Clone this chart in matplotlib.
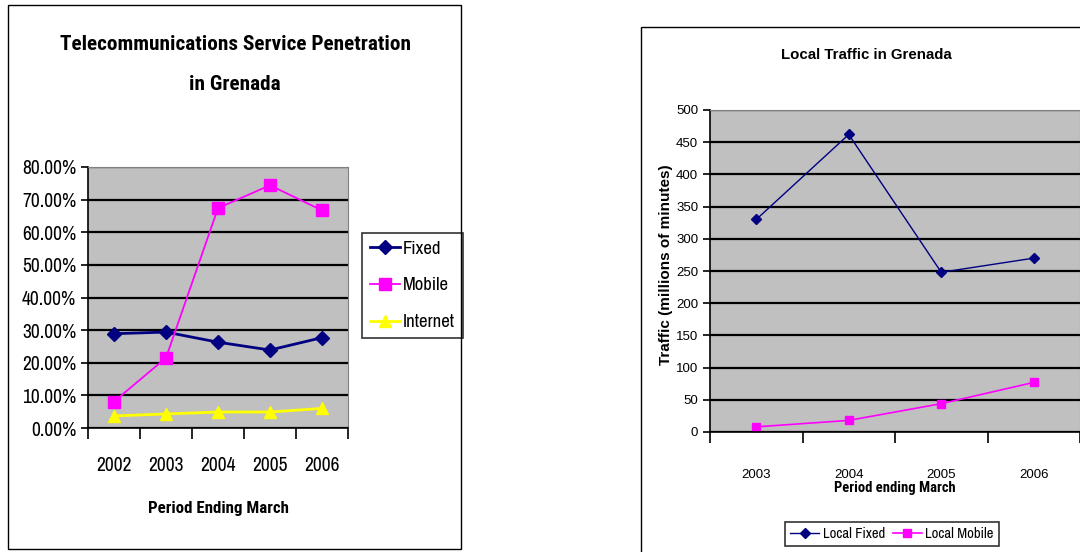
import matplotlib
matplotlib.use('Agg')
import matplotlib.pyplot as plt
from matplotlib import font_manager
from matplotlib.patches import Rectangle
from matplotlib.ticker import FixedLocator, PercentFormatter

# left chart data (share of population, %)
years_pen = ['2002', '2003', '2004', '2005', '2006']
fixed_pen = [28.9, 29.4, 26.3, 23.9, 27.7]
mobile_pen = [8.1, 21.5, 67.4, 74.4, 66.7]
internet_pen = [3.7, 4.3, 4.9, 4.9, 6.0]

# right chart data (millions of minutes)
years_traffic = ['2003', '2004', '2005', '2006']
local_fixed = [330, 462, 248, 270]
local_mobile = [8, 18, 44, 77]

# pick a narrow face if one is around (Arial Narrow look-alike)
cands = ['Liberation Sans Narrow', 'Arial Narrow', 'Archivo Narrow', 'Roboto Condensed',
         'PT Sans Narrow', 'Pragati Narrow', 'Fira Sans Condensed', 'IBM Plex Sans Condensed',
         'Encode Sans Condensed', 'Barlow Semi Condensed']


def wnum(w):
    return w if isinstance(w, int) else font_manager.weight_dict.get(w, 400)


fl = font_manager.fontManager.ttflist
have = {f.name for f in fl}
bold_have = {f.name for f in fl if wnum(f.weight) >= 600}
narrow_pick = next((c for c in cands if c in have), 'Liberation Sans')
narrow_bold = next((c for c in cands if c in bold_have), None)
NARROW = [narrow_pick, 'DejaVu Sans']
NARROW_B = [narrow_bold or 'Liberation Sans', 'DejaVu Sans']
bscale = 1.0 if narrow_bold else 0.85  # regular width face needs shrinking
REG = ['Liberation Sans', 'DejaVu Sans']
W, H = 1080, 552
NAVY, PINK, YEL = '#000080', '#FF00FF', '#FFFF00'

fig = plt.figure(figsize=(W / 100, H / 100), dpi=100)


def px(x0, y0, x1, y1):
    # pixel box (top-left origin) -> figure rect
    return [x0 / W, 1 - y1 / H, (x1 - x0) / W, (y1 - y0) / H]


def ftxt(x, y, s, **kw):
    fig.text(x / W, 1 - y / H, s, ha='center', va='center', **kw)


# outer chart frames
fig.add_artist(Rectangle((8 / W, 1 - 549 / H), 453 / W, 544 / H, transform=fig.transFigure,
                         fill=False, ec='black', lw=1))
fig.add_artist(Rectangle((641 / W, 1 - 570 / H), 460 / W, 543 / H, transform=fig.transFigure,
                         fill=False, ec='black', lw=1))


def style_axes(ax, n, ymax, step):
    ax.set_facecolor('#C0C0C0')
    ax.set_xlim(0.5, n + 0.5)
    ax.set_ylim(0, ymax)
    ax.yaxis.set_major_locator(FixedLocator([i * step for i in range(int(ymax / step) + 1)]))
    ax.grid(axis='y', color='black', lw=1.6)
    ax.set_axisbelow(True)
    ax.spines['top'].set_color('#808080')
    ax.spines['right'].set_color('#808080')
    ax.spines['left'].set_lw(1.2)
    ax.spines['bottom'].set_lw(1.2)
    ax.xaxis.set_major_locator(FixedLocator([i + 0.5 for i in range(n + 1)]))
    ax.xaxis.set_minor_locator(FixedLocator(list(range(1, n + 1))))
    ax.tick_params(axis='x', which='major', length=8, width=1.2, labelbottom=False)
    ax.tick_params(axis='y', length=5, width=1.2)


# ---- left chart ----
ax1 = fig.add_axes(px(88, 167, 348, 428))
style_axes(ax1, 5, 80, 10)
x5 = range(1, 6)
ax1.plot(x5, fixed_pen, color=NAVY, lw=2, marker='D', ms=7, label='Fixed')
ax1.plot(x5, mobile_pen, color=PINK, lw=1.3, marker='s', ms=8, label='Mobile')
ax1.plot(x5, internet_pen, color=YEL, lw=2, marker='^', ms=9, label='Internet')
ax1.yaxis.set_major_formatter(PercentFormatter(decimals=2))
ax1.set_xticks(list(x5), years_pen, minor=True)
ax1.tick_params(axis='x', which='minor', length=0, pad=20)
for lab in ax1.get_xticklabels(minor=True) + ax1.get_yticklabels():
    lab.set_family(NARROW)
    lab.set_fontsize(14)

ftxt(235, 45, 'Telecommunications Service Penetration', family=NARROW_B, fontsize=15.3 * bscale,
     fontweight='bold')
ftxt(235, 85, 'in Grenada', family=NARROW_B, fontsize=15.3 * bscale, fontweight='bold')
ftxt(218, 509, 'Period Ending March', family=NARROW_B, fontsize=12.2 * bscale, fontweight='bold')

leg1 = ax1.legend(loc='upper left', bbox_to_anchor=(362 / W, 1 - 233 / H), bbox_transform=fig.transFigure,
                  prop={'family': NARROW, 'size': 13.5}, frameon=True, fancybox=False,
                  edgecolor='black', handlelength=1.6, handletextpad=0.2, labelspacing=1.1,
                  borderpad=0.4, borderaxespad=0)
leg1.get_frame().set_lw(1.2)

# ---- right chart ----
ax2 = fig.add_axes(px(710, 110, 1080, 432))
style_axes(ax2, 4, 500, 50)
x4 = range(1, 5)
ax2.plot(x4, local_fixed, color=NAVY, lw=1, marker='D', ms=5, label='Local Fixed')
ax2.plot(x4, local_mobile, color=PINK, lw=1.2, marker='s', ms=6, label='Local Mobile')
ax2.set_xticks(list(x4), years_traffic, minor=True)
ax2.tick_params(axis='x', which='minor', length=0, pad=27)
for lab in ax2.get_xticklabels(minor=True) + ax2.get_yticklabels():
    lab.set_family(REG)
    lab.set_fontsize(9.5)

ftxt(866, 55, 'Local Traffic in Grenada', family=REG, fontsize=10.8, fontweight='bold')
ftxt(895, 488, 'Period ending March', family=NARROW_B, fontsize=10.5 * bscale, fontweight='bold')
fig.text(666 / W, 1 - 265 / H, 'Traffic (millions of minutes)', rotation=90, ha='center', va='center',
         family=REG, fontsize=11, fontweight='bold')

leg2 = ax2.legend(loc='center', bbox_to_anchor=(892 / W, 1 - 534 / H), bbox_transform=fig.transFigure,
                  ncol=2, prop={'family': NARROW, 'size': 10.5}, frameon=True, fancybox=False,
                  edgecolor='black', handlelength=2.0, handletextpad=0.25, columnspacing=0.5,
                  borderpad=0.35, borderaxespad=0)
leg2.get_frame().set_lw(1.2)

fig.savefig('out.png', dpi=100, facecolor='white')
